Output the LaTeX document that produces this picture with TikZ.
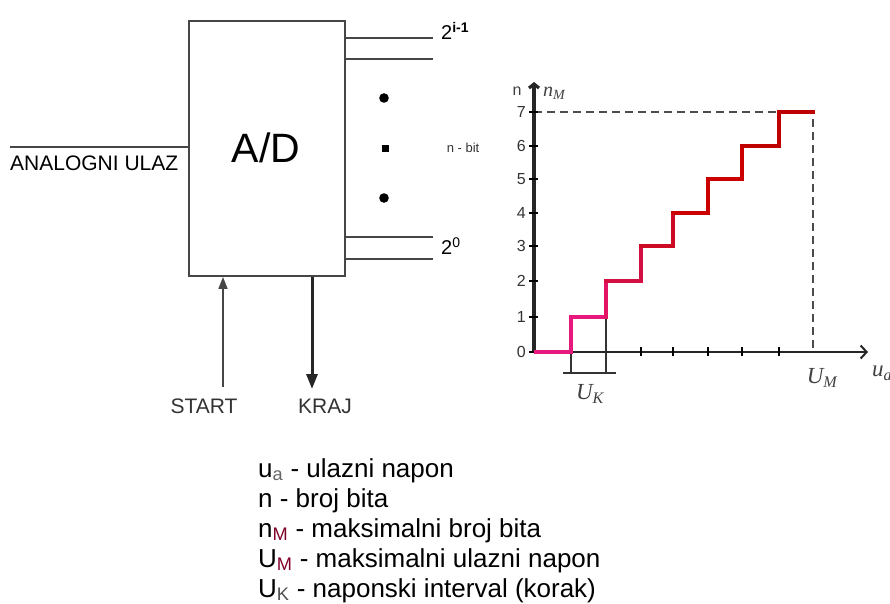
\documentclass[tikz,border=0pt]{standalone}
\usepackage{fontspec}
\setmainfont{Liberation Sans}
\newfontfamily\serifit{Liberation Serif}
\usetikzlibrary{arrows.meta}
\definecolor{linegray}{RGB}{70,70,70}
\definecolor{maroon}{RGB}{128,0,40}
\definecolor{sA}{RGB}{232,25,125}
\definecolor{sB}{RGB}{226,20,100}
\definecolor{sC}{RGB}{212,15,65}
\definecolor{sD}{RGB}{205,10,35}
\definecolor{sE}{RGB}{205,0,0}
\definecolor{sF}{RGB}{190,0,0}
\begin{document}
\begin{tikzpicture}[x=1pt,y=-1pt,
  wire/.style={draw=linegray, line width=2.2pt},
  lbl/.style={inner sep=0pt, font=\fontsize{21}{24}\selectfont},
  legend/.style={inner sep=0pt, anchor=base west, font=\fontsize{26}{30}\selectfont},
  tick/.style={line width=1.6pt},
  num/.style={inner sep=0pt, font=\fontsize{16}{18}\selectfont, text=black!80},
  stair/.style={line width=3.3pt, line cap=rect},
  math/.style={inner sep=0pt, font=\serifit\itshape\fontsize{23}{24}\selectfont, text=black!75}
]
\useasboundingbox (0,0) rectangle (890,603);

% ---------- A/D block ----------
\node[draw=linegray, line width=1.9pt, minimum width=156pt, minimum height=255pt, inner sep=0pt, anchor=north west] (ad) at (188,20) {};
\node[inner sep=0pt, font=\fontsize{41}{44}\selectfont] (adtxt) at (266,148) {A/D};

% analog input
\coordinate (ain) at (10,147);
\draw[wire] (ain) -- (ad.west |- ain);
\node[lbl, anchor=north west] (ainl) at (10,156) {ANALOGNI ULAZ};

% outputs
\coordinate (o1) at (433,38);
\coordinate (o2) at (433,59);
\coordinate (o3) at (433,237);
\coordinate (o4) at (433,259);
\draw[wire] (ad.east |- o1) -- (o1);
\draw[wire] (ad.east |- o2) -- (o2);
\draw[wire] (ad.east |- o3) -- (o3);
\draw[wire] (ad.east |- o4) -- (o4);
\node[inner sep=0pt, anchor=west, font=\fontsize{20}{22}\selectfont] (msb) at (441,31) {2\textsuperscript{\bfseries i-1}};
\node[inner sep=0pt, anchor=west, font=\fontsize{20}{22}\selectfont] (lsb) at (441,246) {2\textsuperscript{0}};
\node[inner sep=0pt, font=\fontsize{13}{15}\selectfont, text=black!80] (nbit) at (463,148) {n - bit};
\fill (384,98) circle (4.8);
\fill (381.5,144.5) rectangle ++(7.5,7.5);
\fill (384,198) circle (4.8);

% start / kraj
\node[lbl, text=black!80] (start) at (204,406) {START};
\node[lbl, text=black!80] (kraj) at (325,406) {KRAJ};
\coordinate (sfrom) at (223,387);
\coordinate (kto) at (312,389);
\draw[line width=1.6pt, linegray, -{Triangle[length=12pt,width=9pt]}] (sfrom) -- (ad.south -| sfrom);
\draw[line width=3pt, black!85, -{Triangle[length=15pt,width=11pt]}] (ad.south -| kto) -- (kto);

% ---------- graph ----------
\coordinate (O) at (534,352);
\coordinate (ytop) at (534,82);
\coordinate (xend) at (868,352);
% U_K bracket
\draw[line width=1.1pt, black!80] (571,352) -- (571,373);
\draw[line width=1.1pt, black!80] (606,317) -- (606,373);
\draw[line width=1.1pt, black!80] (563,373) -- (616,373);
% dashed
\draw[line width=1.4pt, black!70, dash pattern=on 8pt off 5pt] (534,112) -- (813,112) -- (813,352);
% axes
\draw[line width=2pt, black!85, -{Straight Barb[length=6pt,width=13pt]}] (533,352) -- (xend);
\draw[line width=3.2pt, black!85, -{Straight Barb[length=4pt,width=10pt]}] (534,353) -- (ytop);
% y ticks and labels
\foreach \k/\y in {0/352,1/317,2/281,3/246,4/213,5/179,6/146,7/112}{
  \draw[tick] (529,\y) -- (538,\y);
  \node[num, anchor=east] at (526,\y) {\k};
}
% x ticks
\foreach \x in {641,673,708,742,779}{
  \draw[tick] (\x,347) -- (\x,356);
}
% staircase
\draw[stair, sA] (536,352) -- (571,352) -- (571,317) -- (606,317);
\draw[stair, sB] (606,317) -- (606,281);
\draw[stair, sC] (606,281) -- (641,281) -- (641,246);
\draw[stair, sD] (641,246) -- (673,246) -- (673,213);
\draw[stair, sE] (673,213) -- (708,213) -- (708,179) -- (742,179) -- (742,146);
\draw[stair, sF] (742,146) -- (779,146) -- (779,112) -- (813,112);

\node[inner sep=0pt, font=\fontsize{16}{18}\selectfont, text=black!75] (nlab) at (517,91) {n};
\node[inner sep=0pt, anchor=west, font=\serifit\itshape\fontsize{20}{22}\selectfont, text=black!75] (nM) at (543,93) {n\textsubscript{M}};
\node[math] (UK) at (590,394) {U\textsubscript{K}};
\node[math] (UM) at (822,378) {U\textsubscript{M}};
\node[math, anchor=west] (ua) at (872,373) {u\textsubscript{a}};

% ---------- legend ----------
\node[legend] (l1) at (258,477) {u\textsubscript{\color{black!60}a} - ulazni napon};
\node[legend] (l2) at (258,507) {n - broj bita};
\node[legend] (l3) at (258,537) {n\textsubscript{\color{maroon}M} - maksimalni broj bita};
\node[legend] (l4) at (258,567) {U\textsubscript{\color{maroon}M} - maksimalni ulazni napon};
\node[legend] (l5) at (258,597) {U\textsubscript{\color{black!70}K} - naponski interval (korak)};
\end{tikzpicture}
\end{document}
